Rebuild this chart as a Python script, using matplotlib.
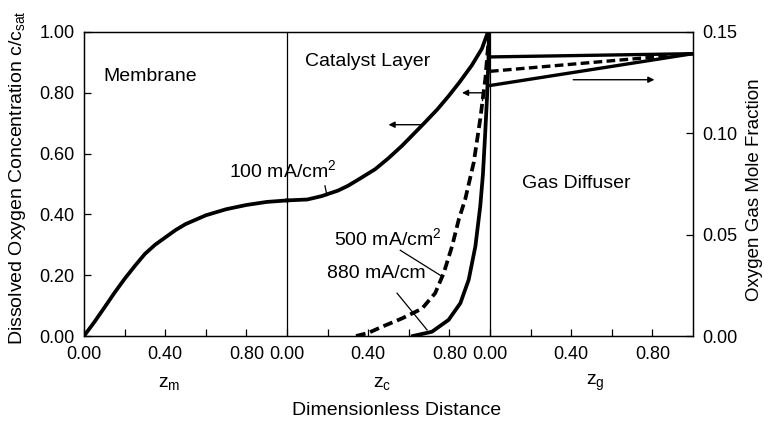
import numpy as np
import matplotlib
matplotlib.use("Agg")
import matplotlib.pyplot as plt

plt.rcParams['font.family'] = ['Liberation Sans', 'DejaVu Sans']
plt.rcParams['mathtext.fontset'] = 'custom'
plt.rcParams['mathtext.rm'] = 'Liberation Sans'
plt.rcParams['mathtext.it'] = 'Liberation Sans:italic'

# membrane, 100 mA/cm2
mem_z = [0, 0.05, 0.1, 0.15, 0.2, 0.25, 0.3, 0.35, 0.4, 0.45, 0.5, 0.6, 0.7, 0.8, 0.9, 1.0]
mem_c = [0, 0.045, 0.093, 0.142, 0.188, 0.23, 0.27, 0.30, 0.324, 0.348, 0.368, 0.397, 0.417, 0.431, 0.441, 0.446]

# catalyst layer
cat_z100 = [0, 0.1, 0.17, 0.25, 0.3, 0.36, 0.435, 0.5, 0.567, 0.62, 0.68, 0.74, 0.797, 0.85, 0.91, 0.96, 0.99]
cat_c100 = [0.446, 0.449, 0.46, 0.478, 0.494, 0.518, 0.549, 0.585, 0.626, 0.662, 0.703, 0.745, 0.79, 0.835, 0.89, 0.945, 1.0]
cat_z500 = [0.34, 0.4, 0.47, 0.567, 0.665, 0.73, 0.772, 0.813, 0.846, 0.878, 0.92, 0.952, 0.977, 0.99, 0.995]
cat_c500 = [0, 0.01, 0.031, 0.058, 0.09, 0.141, 0.207, 0.295, 0.383, 0.45, 0.571, 0.714, 0.846, 0.95, 1.0]
cat_z880 = [0.62, 0.714, 0.796, 0.854, 0.895, 0.928, 0.952, 0.965, 0.975, 0.985, 0.992, 0.995]
cat_c880 = [0, 0.014, 0.053, 0.108, 0.185, 0.295, 0.427, 0.53, 0.65, 0.78, 0.9, 1.0]

# gas diffuser (oxygen gas mole fraction, right axis)
gas_z = [0, 1.0]
gas_100 = [0.1377, 0.1393]
gas_500 = [0.1306, 0.1393]
gas_880 = [0.1236, 0.1393]

W, H = 764, 423
fig = plt.figure(figsize=(W / 100, H / 100), dpi=100)
ax = fig.add_axes([84 / W, 87 / H, 609 / W, 304 / H])
ax2 = ax.twinx()

lw = 2.7
dash = (0, (2.6, 1.3))
ax.plot(mem_z, mem_c, 'k-', lw=lw)
ax.plot(np.array(cat_z100) + 1, cat_c100, 'k-', lw=lw)
ax.plot(np.array(cat_z500) + 1, cat_c500, 'k', lw=lw, linestyle=dash)
ax.plot(np.array(cat_z880) + 1, cat_c880, 'k-', lw=lw)

ax2.plot(np.array(gas_z) + 2, gas_100, 'k-', lw=2.4)
ax2.plot(np.array(gas_z) + 2, gas_500, 'k', lw=2.4, linestyle=dash)
ax2.plot(np.array(gas_z) + 2, gas_880, 'k-', lw=2.4)

ax.axvline(1, color='k', lw=0.9)
ax.axvline(2, color='k', lw=0.9)

ax.set_xlim(0, 3)
ax.set_ylim(0, 1)
ax2.set_ylim(0, 0.15)

major = [0, 0.4, 0.8, 1.0, 1.4, 1.8, 2.0, 2.4, 2.8]
ax.set_xticks(major)
ax.set_xticklabels(['0.00', '0.40', '0.80'] * 3)
ax.set_xticks([0.2, 0.6, 1.2, 1.6, 2.2, 2.6], minor=True)
ax.set_yticks(np.arange(0, 1.01, 0.2))
ax.set_yticklabels(['0.00', '0.20', '0.40', '0.60', '0.80', '1.00'])
ax2.set_yticks([0, 0.05, 0.10, 0.15])
ax2.set_yticklabels(['0.00', '0.05', '0.10', '0.15'])

for a in (ax, ax2):
    a.tick_params(which='both', direction='in', length=5, width=0.9, labelsize=13, pad=7)
    for s in a.spines.values():
        s.set_linewidth(0.9)
ax.tick_params(axis='y', which='both', right=False)

# region labels
fs = 14
ax.text(0.094, 0.853, 'Membrane', fontsize=fs, va='center')
ax.text(1.089, 0.903, 'Catalyst Layer', fontsize=fs, va='center')
ax.text(2.158, 0.502, 'Gas Diffuser', fontsize=fs, va='center')

# current density labels with leaders
ax.text(0.714, 0.545, r'100 mA/cm$^{\mathregular{2}}$', fontsize=fs, va='center')
ax.plot([1.187, 1.197], [0.494, 0.462], 'k-', lw=0.9)
ax.text(1.232, 0.322, r'500 mA/cm$^{\mathregular{2}}$', fontsize=fs, va='center')
ax.plot([1.558, 1.764], [0.282, 0.196], 'k-', lw=0.9)
ax.text(1.197, 0.205, '880 mA/cm', fontsize=fs, va='center')
ax.plot([1.542, 1.69], [0.141, 0.02], 'k-', lw=0.9)

# arrows showing which axis
arw = dict(arrowstyle='-|>', color='k', lw=1.0, mutation_scale=9, shrinkA=0, shrinkB=0)
ax.annotate('', xy=(1.50, 0.695), xytext=(1.67, 0.695), arrowprops=arw)
ax.annotate('', xy=(1.862, 0.80), xytext=(1.961, 0.80), arrowprops=arw)
ax.plot([1.961, 1.961], [0.80, 0.775], 'k-', lw=1.0)
ax.annotate('', xy=(2.81, 0.843), xytext=(2.41, 0.843), arrowprops=arw)

# sub axis labels
ax.text(0.42, -0.155, r'z$_{\mathregular{m}}$', fontsize=fs, ha='center', va='center', clip_on=False)
ax.text(1.47, -0.155, r'z$_{\mathregular{c}}$', fontsize=fs, ha='center', va='center', clip_on=False)
ax.text(2.52, -0.155, r'z$_{\mathregular{g}}$', fontsize=fs, ha='center', va='center', clip_on=False)

fig.text(397 / W, 1 - 410 / H, 'Dimensionless Distance', fontsize=14, ha='center', va='center')
fig.text(18 / W, 1 - 178 / H, r'Dissolved Oxygen Concentration c/c$_{\mathregular{sat}}$',
         fontsize=14, rotation=90, ha='center', va='center')
fig.text(763 / W, 1 - 190 / H, 'Oxygen Gas Mole Fraction', fontsize=13.5, rotation=90,
         ha='right', va='center')

fig.savefig('out.png', dpi=100)
